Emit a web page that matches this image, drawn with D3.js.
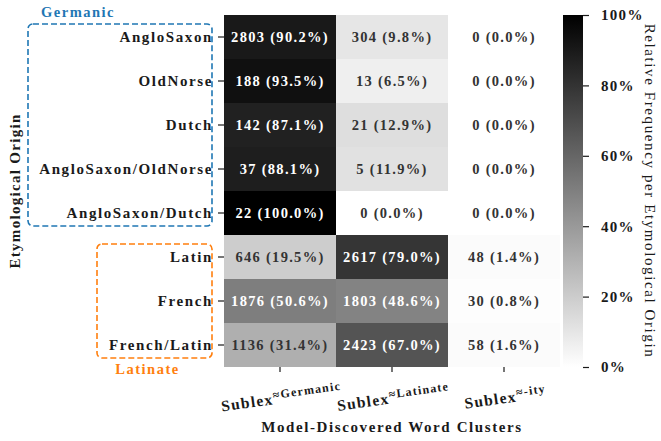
<!DOCTYPE html>
<html>
<head>
<meta charset="utf-8">
<script src="https://cdn.jsdelivr.net/npm/d3@7"></script>
<style>
  body { margin: 0; background: #fff; }
  svg text { font-family: "Liberation Serif", "Times New Roman", serif; font-weight: bold; letter-spacing: 1.3px; }
</style>
</head>
<body>
<svg id="chart" width="661" height="441"></svg>
<script>
// rows = etymological origin, cols = discovered clusters
const origins = ["AngloSaxon", "OldNorse", "Dutch", "AngloSaxon/OldNorse", "AngloSaxon/Dutch",
                 "Latin", "French", "French/Latin"];
const clusters = ["Germanic", "Latinate", "-ity"];
const counts = [
  [2803, 304, 0],
  [188, 13, 0],
  [142, 21, 0],
  [37, 5, 0],
  [22, 0, 0],
  [646, 2617, 48],
  [1876, 1803, 30],
  [1136, 2423, 58]
];
const cbTicks = [0, 0.2, 0.4, 0.6, 0.8, 1];

const svg = d3.select("#chart");
const left = 224, mTop = 15, cellW = 112, cellH = 44;
const ink = "#1a1a1a";

const x = d3.scaleBand().domain(clusters).range([left, left + cellW * clusters.length]);
const y = d3.scaleBand().domain(origins).range([mTop, mTop + cellH * origins.length]);
const color = d3.scaleLinear().domain([0, 1]).range(["#ffffff", "#000000"]);

// flatten into cells with row-relative frequency
const cells = [];
counts.forEach((row, i) => {
  const total = d3.sum(row);
  row.forEach((c, j) => cells.push({origin: origins[i], cluster: clusters[j], n: c, p: c / total}));
});

// seaborn-ish text colour pick from luminance
function textColor(p) {
  const g = 1 - p;
  const lin = g <= 0.03928 ? g / 12.92 : Math.pow((g + 0.055) / 1.055, 2.4);
  return lin > 0.408 ? "#333333" : "#ffffff";
}

svg.append("g").selectAll("rect")
  .data(cells)
  .join("rect")
    .attr("x", d => x(d.cluster))
    .attr("y", d => y(d.origin))
    .attr("width", x.bandwidth())
    .attr("height", y.bandwidth())
    .attr("fill", d => color(d.p));

svg.append("g").selectAll("text")
  .data(cells)
  .join("text")
    .attr("x", d => x(d.cluster) + x.bandwidth() / 2)
    .attr("y", d => y(d.origin) + y.bandwidth() / 2)
    .attr("dy", "0.35em")
    .attr("text-anchor", "middle")
    .attr("font-size", 14.5)
    .attr("fill", d => textColor(d.p))
    .text(d => d.n + " (" + (d.p * 100).toFixed(1) + "%)");

// y axis
const yAxis = svg.append("g")
  .attr("transform", `translate(${left},0)`)
  .call(d3.axisLeft(y).tickSize(6).tickPadding(5));
yAxis.select(".domain").remove();
yAxis.selectAll("text").attr("font-size", 15).style("letter-spacing", "1.6px").attr("fill", ink);
yAxis.selectAll("line").attr("stroke", ink).attr("stroke-width", 1.2);

// x axis, labels drawn by hand for the superscript
const xBottom = mTop + cellH * origins.length;
const xAxis = svg.append("g")
  .attr("transform", `translate(0,${xBottom})`)
  .call(d3.axisBottom(x).tickSize(5).tickFormat(""));
xAxis.select(".domain").remove();
xAxis.selectAll("line").attr("stroke", ink).attr("stroke-width", 1.2);

clusters.forEach(c => {
  const t = svg.append("text")
    .attr("transform", `translate(${x(c) + x.bandwidth() / 2 + 2},${xBottom + 36}) rotate(-8)`)
    .attr("text-anchor", "middle")
    .attr("fill", ink)
    .attr("font-size", 15.5);
  t.append("tspan").text("Sublex");
  t.append("tspan").attr("font-size", 12).attr("dy", -5).style("letter-spacing", "1.2px").text("\u2248" + c);
});

svg.append("text")
  .attr("x", left + cellW * 1.5)
  .attr("y", 432)
  .attr("text-anchor", "middle")
  .attr("font-size", 15)
  .style("letter-spacing", "1.6px")
  .attr("fill", ink)
  .text("Model-Discovered Word Clusters");

svg.append("text")
  .attr("transform", `translate(20,${mTop + cellH * 4}) rotate(-90)`)
  .attr("text-anchor", "middle")
  .attr("font-size", 15)
  .attr("fill", ink)
  .text("Etymological Origin");

// group boxes
const groups = [
  {name: "Germanic", col: "#1f77b4", x0: 28, r0: 0, r1: 4, labelAbove: true},
  {name: "Latinate", col: "#ff7f0e", x0: 97, r0: 5, r1: 7, labelAbove: false}
];
groups.forEach(g => {
  const y0 = y(origins[g.r0]) + 9, y1 = y(origins[g.r1]) + cellH - 9;
  svg.append("rect")
    .attr("x", g.x0).attr("y", y0)
    .attr("width", 212 - g.x0).attr("height", y1 - y0)
    .attr("rx", 5)
    .attr("fill", "none")
    .attr("stroke", g.col)
    .attr("stroke-width", 1.6)
    .attr("stroke-dasharray", "6,3");
  svg.append("text")
    .attr("x", g.labelAbove ? g.x0 + 50 : (g.x0 + 212) / 2 - 7)
    .attr("y", g.labelAbove ? y0 - 7 : y1 + 16)
    .attr("text-anchor", "middle")
    .attr("font-size", 14.5)
    .style("letter-spacing", "1.5px")
    .attr("fill", g.col)
    .text(g.name);
});

// colorbar
const cbX = 563, cbW = 20;
const cbScale = d3.scaleLinear().domain([0, 1]).range([xBottom, mTop]);
const grad = svg.append("defs").append("linearGradient")
  .attr("id", "cbgrad").attr("x1", 0).attr("y1", 1).attr("x2", 0).attr("y2", 0);
grad.append("stop").attr("offset", 0).attr("stop-color", color(0));
grad.append("stop").attr("offset", 1).attr("stop-color", color(1));
svg.append("rect")
  .attr("x", cbX).attr("y", mTop)
  .attr("width", cbW).attr("height", xBottom - mTop)
  .attr("fill", "url(#cbgrad)");
const cbAxis = svg.append("g")
  .attr("transform", `translate(${cbX + cbW},0)`)
  .call(d3.axisRight(cbScale).tickValues(cbTicks).tickSize(6).tickPadding(12)
    .tickFormat(d => Math.round(d * 100) + "%"));
cbAxis.select(".domain").remove();
cbAxis.selectAll("text").attr("font-size", 15).attr("fill", ink);
cbAxis.selectAll("line").attr("stroke", ink).attr("stroke-width", 1.2);

svg.append("text")
  .attr("transform", `translate(645,${(mTop + xBottom) / 2}) rotate(90)`)
  .attr("text-anchor", "middle")
  .attr("font-size", 15)
  .style("font-weight", "normal")
  .style("letter-spacing", "1.6px")
  .attr("fill", ink)
  .text("Relative Frequency per Etymological Origin");
</script>
</body>
</html>
